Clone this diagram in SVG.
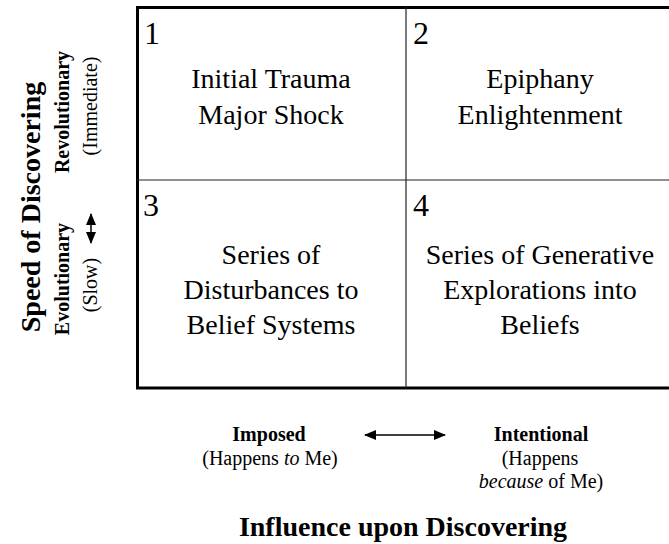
<svg xmlns="http://www.w3.org/2000/svg" width="669" height="544" viewBox="0 0 669 544">
<style>
  text { font-family: "Liberation Serif", "Times New Roman", serif; fill: #000; }
  .num { font-size: 32px; }
  .body { font-size: 28px; text-anchor: middle; }
  .axisTitle { font-size: 28px; font-weight: bold; text-anchor: middle; }
  .lbl { font-size: 20px; font-weight: bold; text-anchor: middle; }
  .sub { font-size: 20px; text-anchor: middle; }
  .frame { fill: none; stroke: #000; stroke-width: 3; }
  .div { stroke: #222; stroke-width: 1.2; }
  .arrow { stroke: #000; stroke-width: 1.5; fill: none; marker-start: url(#ah); marker-end: url(#ah); }
</style>
<defs>
  <marker id="ah" viewBox="0 0 12 10" refX="11" refY="5" markerWidth="12" markerHeight="10" markerUnits="userSpaceOnUse" orient="auto-start-reverse">
    <path d="M0,0 L12,5 L0,10 z" fill="#000"/>
  </marker>
</defs>
<rect width="669" height="544" fill="#fff"/>

<g id="grid">
  <rect class="frame" x="137.5" y="7.5" width="560" height="380.5"/>
  <line class="div" x1="406" y1="7" x2="406" y2="388"/>
  <line class="div" x1="137" y1="180" x2="669" y2="180"/>
</g>

<g id="cell1">
  <text class="num" x="144" y="44">1</text>
  <text class="body" x="271" y="88">Initial Trauma</text>
  <text class="body" x="271" y="124">Major Shock</text>
</g>
<g id="cell2">
  <text class="num" x="413" y="44">2</text>
  <text class="body" x="540" y="88">Epiphany</text>
  <text class="body" x="540" y="124">Enlightenment</text>
</g>
<g id="cell3">
  <text class="num" x="143" y="216">3</text>
  <text class="body" x="271" y="264">Series of</text>
  <text class="body" x="271" y="299">Disturbances to</text>
  <text class="body" x="271" y="334">Belief Systems</text>
</g>
<g id="cell4">
  <text class="num" x="413" y="216">4</text>
  <text class="body" x="540" y="264">Series of Generative</text>
  <text class="body" x="540" y="299">Explorations into</text>
  <text class="body" x="540" y="334">Beliefs</text>
</g>

<g id="y-axis">
  <text class="axisTitle" transform="translate(40,207) rotate(-90)">Speed of Discovering</text>
  <text class="lbl" transform="translate(69,112) rotate(-90)">Revolutionary</text>
  <text class="sub" transform="translate(97,106) rotate(-90)">(Immediate)</text>
  <text class="lbl" transform="translate(69,279) rotate(-90)">Evolutionary</text>
  <text class="sub" transform="translate(97,285) rotate(-90)">(Slow)</text>
</g>

<g id="x-axis">
  <text class="lbl" x="269" y="441">Imposed</text>
  <text class="sub" x="270" y="465">(Happens <tspan font-style="italic">to</tspan> Me)</text>
  <text class="lbl" x="541" y="441">Intentional</text>
  <text class="sub" x="540" y="465">(Happens</text>
  <text class="sub" x="541" y="488"><tspan font-style="italic">because</tspan> of Me)</text>
  <text class="axisTitle" x="403" y="536">Influence upon Discovering</text>
</g>

<g id="connectors">
  <line class="arrow" x1="91" y1="243" x2="91" y2="214"/>
  <line class="arrow" x1="365" y1="435" x2="445" y2="435"/>
</g>
</svg>
